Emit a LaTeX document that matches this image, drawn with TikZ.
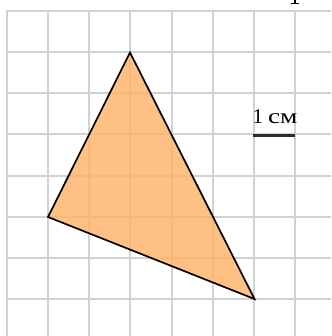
\documentclass[tikz,border=0pt]{standalone}
\usepackage{fontspec}
\setmainfont{Liberation Serif}
\begin{document}
\begin{tikzpicture}[x=1pt,y=-1pt,
  gridline/.style={draw={rgb,255:red,210;green,210;blue,210},line width=2pt},
  tri/.style={draw=black,line width=1.7pt,line join=miter,fill={rgb,255:red,255;green,178;blue,100},fill opacity=0.8},
  scalebar/.style={draw={rgb,255:red,45;green,45;blue,45},line width=2.2pt},
  lbl/.style={font=\fontsize{21}{21}\selectfont,inner sep=0pt,anchor=base}]
\useasboundingbox (0,0) rectangle (331,336);
\begin{scope}
\clip (0,0) rectangle (331,336);
\foreach \k in {0,...,7}{
  \draw[gridline] ({7+41.15*\k},10) -- ({7+41.15*\k},340);
  \draw[gridline] (6,{11+41.15*\k}) -- (335,{11+41.15*\k});
}
\coordinate (f1) at (295,-1);
\coordinate (f2) at (295,3);
\draw[line width=1.6pt] (f1) -- (f2);
\coordinate (f3) at (291,3.2);
\coordinate (f4) at (299,3.2);
\draw[line width=0.8pt] (f3) -- (f4);
\end{scope}
\coordinate (A) at (130,52.5);
\coordinate (B) at (48,217);
\coordinate (C) at (254.5,299);
\draw[tri] (A) -- (B) -- (C) -- cycle;
\coordinate (s1) at (253,135.5);
\coordinate (s2) at (295,135.5);
\draw[scalebar] (s1) -- (s2);
\node[lbl] (cm) at (275,123.5) {1\hspace{5pt}{\addfontfeature{FakeStretch=1.3}см}};
\end{tikzpicture}
\end{document}
